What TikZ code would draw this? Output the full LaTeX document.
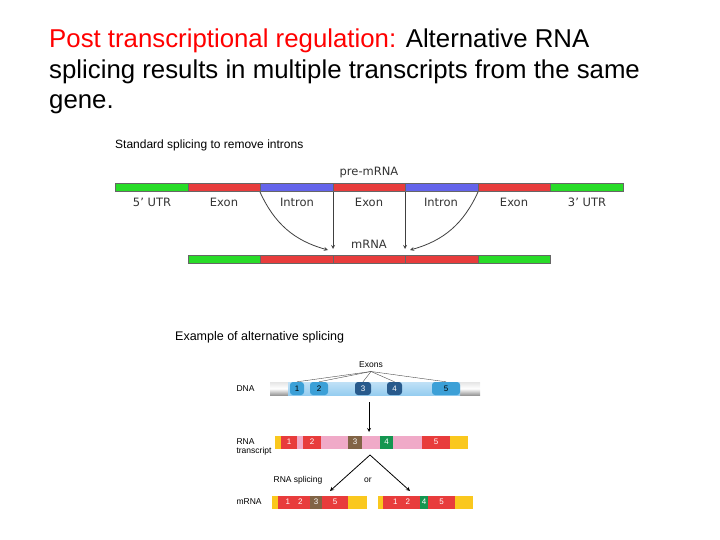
\documentclass[tikz,border=0pt]{standalone}
\usepackage{fontspec}
\setmainfont{Liberation Sans}
\setsansfont{DejaVu Sans}
\usetikzlibrary{positioning}
\definecolor{exonred}{RGB}{232,60,60}
\definecolor{utrgreen}{RGB}{40,220,40}
\definecolor{intronblue}{RGB}{100,100,235}
\definecolor{tubeblue}{RGB}{150,205,240}
\definecolor{exblue}{RGB}{60,160,215}
\definecolor{exdark}{RGB}{40,90,140}
\definecolor{rnapink}{RGB}{240,170,200}
\definecolor{rnayel}{RGB}{250,200,30}
\definecolor{rnabrown}{RGB}{130,100,70}
\definecolor{rnagreen}{RGB}{20,150,80}
\newcommand\seg[4]{\node[seg,fill=#4,minimum width=#3-#2] at ({(#2+#3)/2},#1) {};}
\newcommand\rbox[5]{\node[bx,fill=#4,minimum width=#3-#2] at ({(#2+#3)/2},#1) {\textcolor{white}{#5}};}
\begin{document}
\begin{tikzpicture}[x=1pt,y=-1pt]
\tikzset{seg/.style={draw=black!60,line width=0.8pt,minimum height=8pt,inner sep=0pt},
  bx/.style={minimum height=13pt,inner sep=0pt,font=\fontsize{8}{8}\selectfont},
  glabel/.style={font=\sffamily\fontsize{11.5}{11.5}\selectfont,text=black!80},
  slabel/.style={font=\fontsize{8.5}{9.5}\selectfont,anchor=west,align=left},
  every path/.style={>=stealth}}
\useasboundingbox (0,0) rectangle (720,540);
\node[anchor=north west,align=left,font=\fontsize{25.8}{30.5}\selectfont,inner sep=0pt] (title) at (49,29)
 {\textcolor{red}{Post transcriptional regulation:} Alternative RNA\\splicing results in multiple transcripts from the same\\gene.};
\node[anchor=west,font=\fontsize{12}{12}\selectfont,inner sep=0pt] (sub1) at (115,145) {Standard splicing to remove introns};
\node[anchor=west,font=\fontsize{12.5}{12.5}\selectfont,inner sep=0pt] (sub2) at (175,337) {Example of alternative splicing};
% standard splicing
\seg{187}{115}{188}{utrgreen}
\seg{187}{188}{260}{exonred}
\seg{187}{260}{333}{intronblue}
\seg{187}{333}{405}{exonred}
\seg{187}{405}{478}{intronblue}
\seg{187}{478}{550}{exonred}
\seg{187}{550}{623}{utrgreen}
\seg{259}{188}{260}{utrgreen}
\seg{259}{260}{333}{exonred}
\seg{259}{333}{405}{exonred}
\seg{259}{405}{478}{exonred}
\seg{259}{478}{550}{utrgreen}
\node[glabel] (pre) at (369,173) {pre-mRNA};
\node[glabel] (mrna) at (369,244) {mRNA};
\foreach \t/\x in {5' UTR/152,Exon/224,Intron/297,Exon/369,Intron/441,Exon/514,3' UTR/587}
  \node[glabel] at (\x,202) {\t};
\coordinate (a1) at (260,192); \coordinate (a2) at (333,192);
\coordinate (a3) at (405,192); \coordinate (a4) at (478,192);
\coordinate (b1) at (328,250); \coordinate (b2) at (333,249);
\coordinate (b3) at (405,249); \coordinate (b4) at (410,250);
\draw[->,black!75,thick] (a1) to[bend right=25] (b1);
\draw[->,black!75,thick] (a2) -- (b2);
\draw[->,black!75,thick] (a3) -- (b3);
\draw[->,black!75,thick] (a4) to[bend left=25] (b4);
% alternative splicing
\shade[top color=black!10,bottom color=black!40,middle color=white] (270,382) rectangle (480,395);
\shade[top color=tubeblue!60,bottom color=tubeblue] (288,382) rectangle (460,395);
\foreach \a/\b/\c/\t/\n in {290/304/exblue/black/1,310/328/exblue/black/2,355/371/exdark/white/3,387/402/exdark/white/4,432/460/exblue/black/5}
  \node[bx,fill=\c,minimum width=\b-\a,minimum height=13pt,rounded corners=3pt] (e\n) at ({(\a+\b)/2},388.5) {\textcolor{\t}{\n}};
\node[font=\fontsize{8.5}{8.5}\selectfont] (exons) at (371,365) {Exons};
\foreach \n in {1,...,5} \draw[black!70,thin] (exons.south) -- (e\n.north);
\node[slabel] (dna) at (233,389) {DNA};
\node[slabel] (rnat) at (233,447) {RNA\\transcript};
\node[slabel] (mr) at (233,502) {mRNA};
\rbox{442}{275}{468}{rnapink}{}
\rbox{442}{275}{281}{rnayel}{}
\rbox{442}{281}{297}{exonred}{1}
\rbox{442}{303}{321}{exonred}{2}
\rbox{442}{348}{362}{rnabrown}{3}
\rbox{442}{380}{393}{rnagreen}{4}
\rbox{442}{422}{450}{exonred}{5}
\rbox{442}{450}{468}{rnayel}{}
\coordinate (d1) at (369,402); \coordinate (d2) at (369,432);
\draw[->,thick] (d1) -- (d2);
\coordinate (s0) at (370,455); \coordinate (s1) at (330,491); \coordinate (s2) at (410,491);
\draw[->,thick] (s0) -- (s1);
\draw[->,thick] (s0) -- (s2);
\node[font=\fontsize{8.5}{8.5}\selectfont] (spl) at (298,480) {RNA splicing};
\node[font=\fontsize{8.5}{8.5}\selectfont] (or) at (368,480) {or};
\rbox{502}{272}{367}{rnayel}{}
\rbox{502}{278}{310}{exonred}{1\hspace{8pt}2}
\rbox{502}{310}{322}{rnabrown}{3}
\rbox{502}{322}{348}{exonred}{5}
\rbox{502}{378}{473}{rnayel}{}
\rbox{502}{383}{420}{exonred}{1\hspace{8pt}2}
\rbox{502}{420}{428}{rnagreen}{4}
\rbox{502}{428}{455}{exonred}{5}
\end{tikzpicture}
\end{document}
